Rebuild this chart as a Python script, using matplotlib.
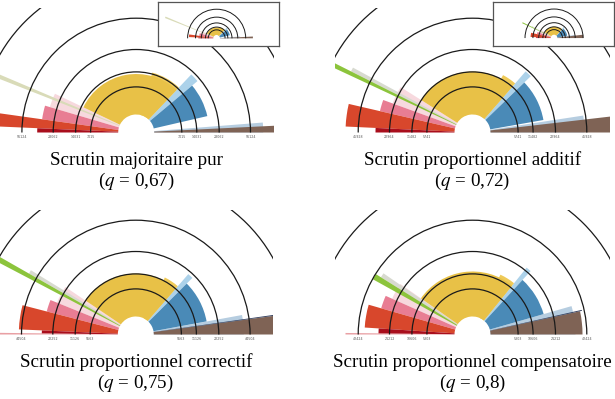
import numpy as np
import matplotlib.pyplot as plt
from matplotlib.patches import Wedge, Arc

plt.rcParams['mathtext.fontset'] = 'stix'

W, H = 615, 399
HOLE = 18

colors = {
    'dark_red': '#a90e1c',
    'red': '#d8472c',
    'pink': '#e87d93',
    'pale_pink': '#f7d9de',
    'pale_red': '#e9a0a4',
    'beige': '#d9dbb8',
    'gray': '#d8dad0',
    'green': '#8cc43c',
    'yellow': '#e8c147',
    'light_yellow': '#efca58',
    'blue': '#4a8ab7',
    'light_blue': '#acd2ea',
    'light_blue2': '#b6cde0',
    'navy': '#35405e',
    'brown': '#7f6355',
}

titles = ['Scrutin majoritaire pur', 'Scrutin proportionnel additif',
          'Scrutin proportionnel correctif', 'Scrutin proportionnel compensatoire']
q_values = ['0,67', '0,72', '0,75', '0,8']

# rayons des cercles de reference ; seuls les quatre premiers sont etiquetes
ring_radii = [45.6, 60.6, 83.0, 114.3, 157.0]
ring_labels = [
    ['7015', '14031', '28062', '56124'],
    ['5741', '11482', '22964', '45928'],
    ['5563', '11126', '22252', '44504'],
    ['5303', '10606', '21212', '42424'],
]

# (parti, angle debut, angle fin, rayon) dans l'ordre de trace
p1_wedges = [
    ('light_blue2', 0, 4.5, 127), ('light_blue', 40, 46.5, 80),
    ('light_yellow', 46.5, 75, 62), ('pale_pink', 154.5, 163.6, 90),
    ('beige', 157, 158.6, 300),
    ('brown', 0, 2.8, 196), ('blue', 13, 40, 73), ('yellow', 46.5, 154.5, 58.5),
    ('pink', 163.6, 172, 95), ('red', 172, 177.5, 150), ('dark_red', 177.5, 180, 99),
]
p2_wedges = [
    ('light_blue2', 0, 8.7, 112), ('light_blue', 44, 49, 81),
    ('light_yellow', 49, 62, 65), ('pale_pink', 147.7, 160, 85),
    ('gray', 151.5, 153.3, 136), ('green', 153.3, 155, 190),
    ('brown', 0, 6.6, 158), ('blue', 10, 44, 72), ('yellow', 49, 147.7, 61),
    ('pink', 160, 167, 95), ('red', 167, 177.3, 127), ('dark_red', 177.3, 180, 97),
]
p3_wedges = [
    ('light_blue2', 0, 10.4, 108), ('light_blue', 45, 49, 80),
    ('light_yellow', 49, 63, 64), ('pale_pink', 146, 158, 85),
    ('gray', 148.5, 150.3, 123), ('green', 150.3, 152.3, 200),
    ('pale_red', 179.3, 180, 160),
    ('brown', 0, 7.7, 170), ('navy', 7.7, 8.1, 172), ('blue', 10.5, 45, 72),
    ('yellow', 49, 146, 61), ('pink', 158, 165.5, 92), ('red', 165.5, 177.5, 117),
    ('dark_red', 177.5, 179.3, 94),
]
p4_wedges = [
    ('light_blue2', 0, 16, 103), ('light_blue', 47.5, 51, 86),
    ('light_yellow', 51, 65, 66), ('pale_pink', 145, 156, 88),
    ('gray', 145.5, 148, 108), ('pale_red', 179.3, 180, 127),
    ('brown', 0, 12.2, 110), ('navy', 12.2, 12.7, 112), ('blue', 16, 47.5, 74),
    ('yellow', 51, 145, 63), ('green', 148, 151, 114), ('pink', 156, 164, 95),
    ('red', 164, 176.3, 108), ('dark_red', 176.3, 179.3, 94),
]
all_wedges = [p1_wedges, p2_wedges, p3_wedges, p4_wedges]

# centre (x) et ligne de base (y) de chaque panneau, en pixels
centers = [(136.2, 132.5), (472.5, 132.5), (135.8, 334.5), (472.5, 334.5)]


def rect(left, top, w, h):
    return [left / W, 1 - (top + h) / H, w / W, h / H]


def draw_panel(ax, wedges, labels, lw, show_labels):
    for party, t1, t2, r in wedges:
        ax.add_patch(Wedge((0, 0), r, t1, t2, width=r - HOLE,
                           facecolor=colors[party], edgecolor='none'))
    for rr in ring_radii:
        ax.add_patch(Arc((0, 0), 2 * rr, 2 * rr, theta1=0, theta2=180,
                         color='#1a1a1a', lw=lw, zorder=3))
    if show_labels:
        for rr, lab in zip(ring_radii, labels):
            for x in (-rr, rr):
                ax.text(x, -2, lab, fontsize=2.3, color='#555555',
                        ha='center', va='top', clip_on=True)


fig = plt.figure(figsize=(W / 100, H / 100), dpi=100)

for i, (cx, by) in enumerate(centers):
    ax = fig.add_axes(rect(cx - 137.5, by - 125, 275, 135))
    draw_panel(ax, all_wedges[i], ring_labels[i], 0.9, True)
    ax.set_xlim(-137.5, 137.5)
    ax.set_ylim(-10, 125)
    ax.axis('off')
    ty = by + 28
    fig.text(cx / W, 1 - ty / H, titles[i], fontsize=13.7,
             family='Liberation Serif', ha='center', va='center')
    fig.text(cx / W, 1 - (ty + 21) / H, '($q$ = ' + q_values[i] + ')',
             fontsize=13.7, family='Liberation Serif', ha='center', va='center')

# vignettes (vue d'ensemble) des deux premiers panneaux
insets = [(rect(158, 2, 121, 44), (-317, 337), (-41.6, 196)),
          (rect(493, 2, 121, 44), (-330, 324), (-43, 195))]
for i, (pos, xl, yl) in enumerate(insets):
    ins = fig.add_axes(pos, zorder=5)
    ins.set_facecolor('white')
    draw_panel(ins, all_wedges[i], ring_labels[i], 0.7, False)
    ins.set_xlim(*xl)
    ins.set_ylim(*yl)
    ins.set_xticks([])
    ins.set_yticks([])
    for s in ins.spines.values():
        s.set_color('#555555')
        s.set_linewidth(0.9)

fig.savefig('out.png', dpi=100)
